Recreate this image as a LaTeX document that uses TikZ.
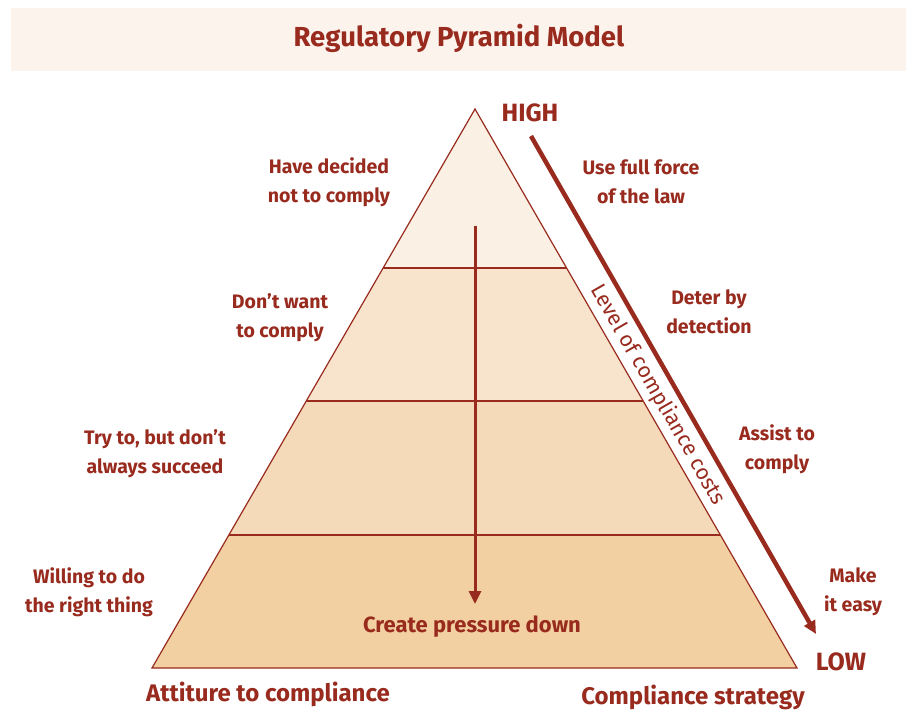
\documentclass[tikz,border=0pt]{standalone}
\usepackage{fontspec}
\setmainfont{Fira Sans}
\usetikzlibrary{arrows.meta}

\definecolor{pyrred}{RGB}{152,42,30}
\definecolor{bandfill}{RGB}{251,243,236}
\definecolor{layerA}{RGB}{250,240,227}
\definecolor{layerB}{RGB}{248,228,205}
\definecolor{layerC}{RGB}{244,218,185}
\definecolor{layerD}{RGB}{242,208,162}

\begin{document}
\begin{tikzpicture}[x=1pt,y=-1pt]
        \tikzset{label/.style = {text=pyrred,align=center,font=\bfseries\fontsize{19.5}{29}\selectfont}}
        \tikzset{heading/.style = {text=pyrred,font=\bfseries\fontsize{24}{28}\selectfont}}
        \tikzset{edge/.style = {draw=pyrred,line width=1.2pt}}
        \tikzset{bigarrow/.style = {draw=pyrred,-{Triangle[length=13pt,width=12pt]}}}
        \useasboundingbox (0,0) rectangle (906,710);

        % title band
        \fill[bandfill] (11,8) rectangle (906,71);
        \node[heading,font=\bfseries\fontsize{27.5}{30}\selectfont] (title) at (459,38) {Regulatory Pyramid Model};

        % pyramid corners and layer edges
        \coordinate (apex) at (475,109);
        \coordinate (bl) at (152,668);
        \coordinate (br) at (797,668);
        \coordinate (l1) at (383.1,268);
        \coordinate (r1) at (566.6,268);
        \coordinate (l2) at (306.3,401);
        \coordinate (r2) at (643.2,401);
        \coordinate (l3) at (228.8,535);
        \coordinate (r3) at (720.4,535);

        \fill[layerA] (apex) -- (r1) -- (l1) -- cycle;
        \fill[layerB] (l1) -- (r1) -- (r2) -- (l2) -- cycle;
        \fill[layerC] (l2) -- (r2) -- (r3) -- (l3) -- cycle;
        \fill[layerD] (l3) -- (r3) -- (br) -- (bl) -- cycle;
        \draw[edge,line join=miter] (apex) -- (br) -- (bl) -- cycle;
        \draw[edge] (l1) -- (r1);
        \draw[edge] (l2) -- (r2);
        \draw[edge] (l3) -- (r3);

        % arrows
        \coordinate (downtop) at (475,226);
        \coordinate (downend) at (475,604);
        \draw[bigarrow,line width=3pt] (downtop) -- (downend);
        \coordinate (costtop) at (531,136);
        \coordinate (costend) at (816,634);
        \draw[bigarrow,line width=4.5pt] (costtop) -- (costend);
        \node[text=pyrred,rotate=-60.2,font=\fontsize{21.5}{24}\selectfont] (costs) at (658,395) {Level of compliance costs};

        \node[heading,font=\bfseries\fontsize{25}{28}\selectfont] (high) at (530,113) {HIGH};
        \node[heading,font=\bfseries\fontsize{25}{28}\selectfont] (low) at (841,662) {LOW};

        % attitudes (left) and strategies (right)
        \node[label] (decided) at (329,182) {Have decided\\not to comply};
        \node[label] (force) at (641,182) {Use full force\\of the law};
        \node[label] (dontwant) at (280,318) {Don’t want\\to comply};
        \node[label] (deter) at (709,312) {Deter by\\detection};
        \node[label] (tryto) at (155,454) {Try to, but don’t\\always succeed};
        \node[label] (assist) at (777,449) {Assist to\\comply};
        \node[label] (willing) at (89,592) {Willing to do\\the right thing};
        \node[label] (easy) at (853,592) {Make\\it easy};
        \node[label,font=\bfseries\fontsize{22}{26}\selectfont] (pressure) at (472,627) {Create pressure down};

        \node[heading] (attitude) at (268,694) {Attiture to compliance};
        \node[heading] (strategy) at (693,697) {Compliance strategy};
\end{tikzpicture}
\end{document}
